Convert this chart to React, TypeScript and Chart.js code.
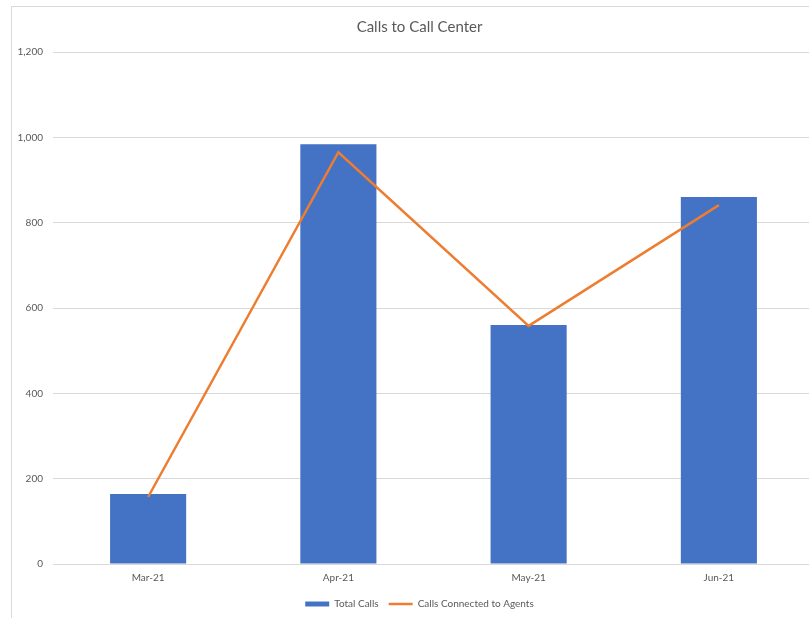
import React, { useEffect, useRef } from "react";
import { Chart, registerables } from "chart.js";

Chart.register(...registerables);

const categories = ["Mar-21", "Apr-21", "May-21", "Jun-21"];
const totalCalls = [164, 984, 560, 860];
const connectedCalls = [157, 965, 558, 841];
const yTicks = [0, 200, 400, 600, 800, 1000, 1200];

const FONT = "Lato, 'Open Sans', sans-serif";

export default function App() {
  const ref = useRef<HTMLCanvasElement | null>(null);

  useEffect(() => {
    document.body.style.overflow = "hidden";
    const ctx = ref.current!.getContext("2d")!;
    const chart = new Chart(ctx, {
      type: "bar",
      data: {
        labels: categories,
        datasets: [
          {
            type: "bar",
            label: "Total Calls",
            data: totalCalls,
            backgroundColor: "#4472C4",
            borderWidth: 0,
            barPercentage: 1,
            categoryPercentage: 0.4,
            order: 1,
            pointStyle: "rect",
          } as any,
          {
            type: "line",
            label: "Calls Connected to Agents",
            data: connectedCalls,
            borderColor: "#ED7D31",
            backgroundColor: "#ED7D31",
            borderWidth: 2.5,
            pointRadius: 0,
            tension: 0,
            order: 0,
            pointStyle: "line",
          } as any,
        ],
      },
      options: {
        animation: false,
        responsive: false,
        maintainAspectRatio: false,
        layout: { padding: { left: 13, right: 12, top: 0, bottom: 10 } },
        plugins: {
          title: {
            display: true,
            text: "Calls to Call Center",
            color: "#595959",
            font: { family: FONT, size: 15, weight: "normal" },
            padding: { top: 11, bottom: 16 },
          },
          legend: {
            position: "bottom",
            labels: {
              usePointStyle: true,
              pointStyleWidth: 24,
              boxHeight: 5,
              color: "#595959",
              font: { family: FONT, size: 10 },
              padding: 10,
              sort: (a: any, b: any) => a.datasetIndex - b.datasetIndex,
            },
          },
          tooltip: { enabled: false },
        },
        scales: {
          x: {
            grid: { display: false },
            border: { display: false },
            ticks: { color: "#595959", font: { family: FONT, size: 10 }, padding: 0 },
            afterFit: (s: any) => {
              s.height = 25;
            },
          },
          y: {
            min: 0,
            max: 1200,
            afterBuildTicks: (s: any) => {
              s.ticks = yTicks.map((v) => ({ value: v }));
            },
            afterFit: (s: any) => {
              s.width = 28;
              s._computeLabelArea = () => undefined;
            },
            grid: { color: "#d9d9d9", drawTicks: false },
            border: { display: false },
            ticks: {
              color: "#595959",
              font: { family: FONT, size: 10 },
              padding: 10,
              callback: (v: any) => Number(v).toLocaleString("en-US"),
            },
          },
        },
      },
    });
    return () => chart.destroy();
  }, []);

  return (
    <div
      style={{
        position: "fixed",
        left: 11,
        top: 6,
        width: 814,
        height: 622,
        border: "1px solid #d9d9d9",
        background: "#fff",
      }}
    >
      <canvas ref={ref} width={814} height={622} style={{ display: "block" }} />
    </div>
  );
}
